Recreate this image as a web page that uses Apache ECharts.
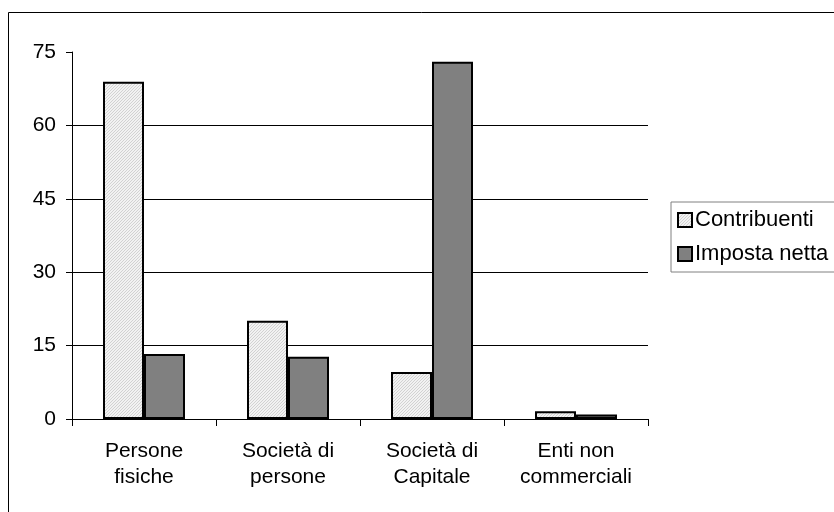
<!DOCTYPE html>
<html>
<head>
<meta charset="utf-8">
<script src="https://cdn.jsdelivr.net/npm/echarts@6/dist/echarts.min.js"></script>
<style>
  html, body { margin: 0; padding: 0; background: #fff; }
  #chart { width: 834px; height: 512px; }
</style>
</head>
<body>
<div id="chart"></div>
<script>
const categories = ['Persone\nfisiche', 'Società di\npersone', 'Società di\nCapitale', 'Enti non\ncommerciali']
const contribuenti = [68.9, 20.1, 9.6, 1.6]
const impostaNetta = [13.3, 12.7, 73.0, 0.9]
const yMin = 0, yMax = 75, yStep = 15

// fine light hatch for "Contribuenti"
const hatch = document.createElement('canvas')
hatch.width = 3
hatch.height = 3
const hc = hatch.getContext('2d')
hc.fillStyle = '#f2f2f2'
hc.fillRect(0, 0, 3, 3)
hc.fillStyle = '#d2d2d2'
for (let i = 0; i < 3; i++) hc.fillRect(i, 2 - i, 1, 1)

const font = 'Liberation Sans, Arial, sans-serif'
const chart = echarts.init(document.getElementById('chart'))
chart.setOption({
  animation: false,
  textStyle: { fontFamily: font, color: '#000' },
  graphic: [{
    type: 'rect',
    shape: { x: 8.5, y: 12.5, width: 900, height: 600 },
    style: { fill: 'none', stroke: '#000', lineWidth: 1 },
    silent: true
  }],
  grid: { left: 72, right: 186, top: 52, bottom: 93, containLabel: false },
  legend: {
    orient: 'vertical',
    left: 671,
    top: 202,
    padding: [7, 10, 7, 6],
    itemGap: 12,
    itemWidth: 14,
    itemHeight: 14,
    borderColor: '#808080',
    borderWidth: 1,
    textStyle: { fontSize: 22, fontFamily: font, color: '#000', padding: [0, 0, 0, -2] },
    itemStyle: { borderColor: '#000', borderWidth: 2 },
    data: [
      { name: 'Contribuenti', icon: 'rect' },
      { name: 'Imposta netta', icon: 'rect' }
    ]
  },
  xAxis: {
    type: 'category',
    data: categories,
    axisLine: { lineStyle: { color: '#000', width: 1 } },
    axisTick: { show: true, length: 7, lineStyle: { color: '#000' } },
    axisLabel: { fontSize: 21, lineHeight: 26, margin: 19, color: '#000', fontFamily: font, interval: 0 },
    splitLine: { show: false }
  },
  yAxis: {
    type: 'value',
    min: yMin,
    max: yMax,
    interval: yStep,
    axisLine: { show: true, lineStyle: { color: '#000', width: 1 } },
    axisTick: { show: true, length: 6, lineStyle: { color: '#000' } },
    axisLabel: { fontSize: 21, margin: 16, color: '#000', fontFamily: font },
    splitLine: { show: true, showMaxLine: false, lineStyle: { color: '#000', width: 1 } }
  },
  series: [
    {
      name: 'Contribuenti',
      type: 'bar',
      data: contribuenti,
      barWidth: 41,
      barGap: '0%',
      itemStyle: { color: { image: hatch, repeat: 'repeat' }, borderColor: '#000', borderWidth: 2 }
    },
    {
      name: 'Imposta netta',
      type: 'bar',
      data: impostaNetta,
      barWidth: 41,
      barGap: '0%',
      itemStyle: { color: '#808080', borderColor: '#000', borderWidth: 2 }
    }
  ]
})
</script>
</body>
</html>
